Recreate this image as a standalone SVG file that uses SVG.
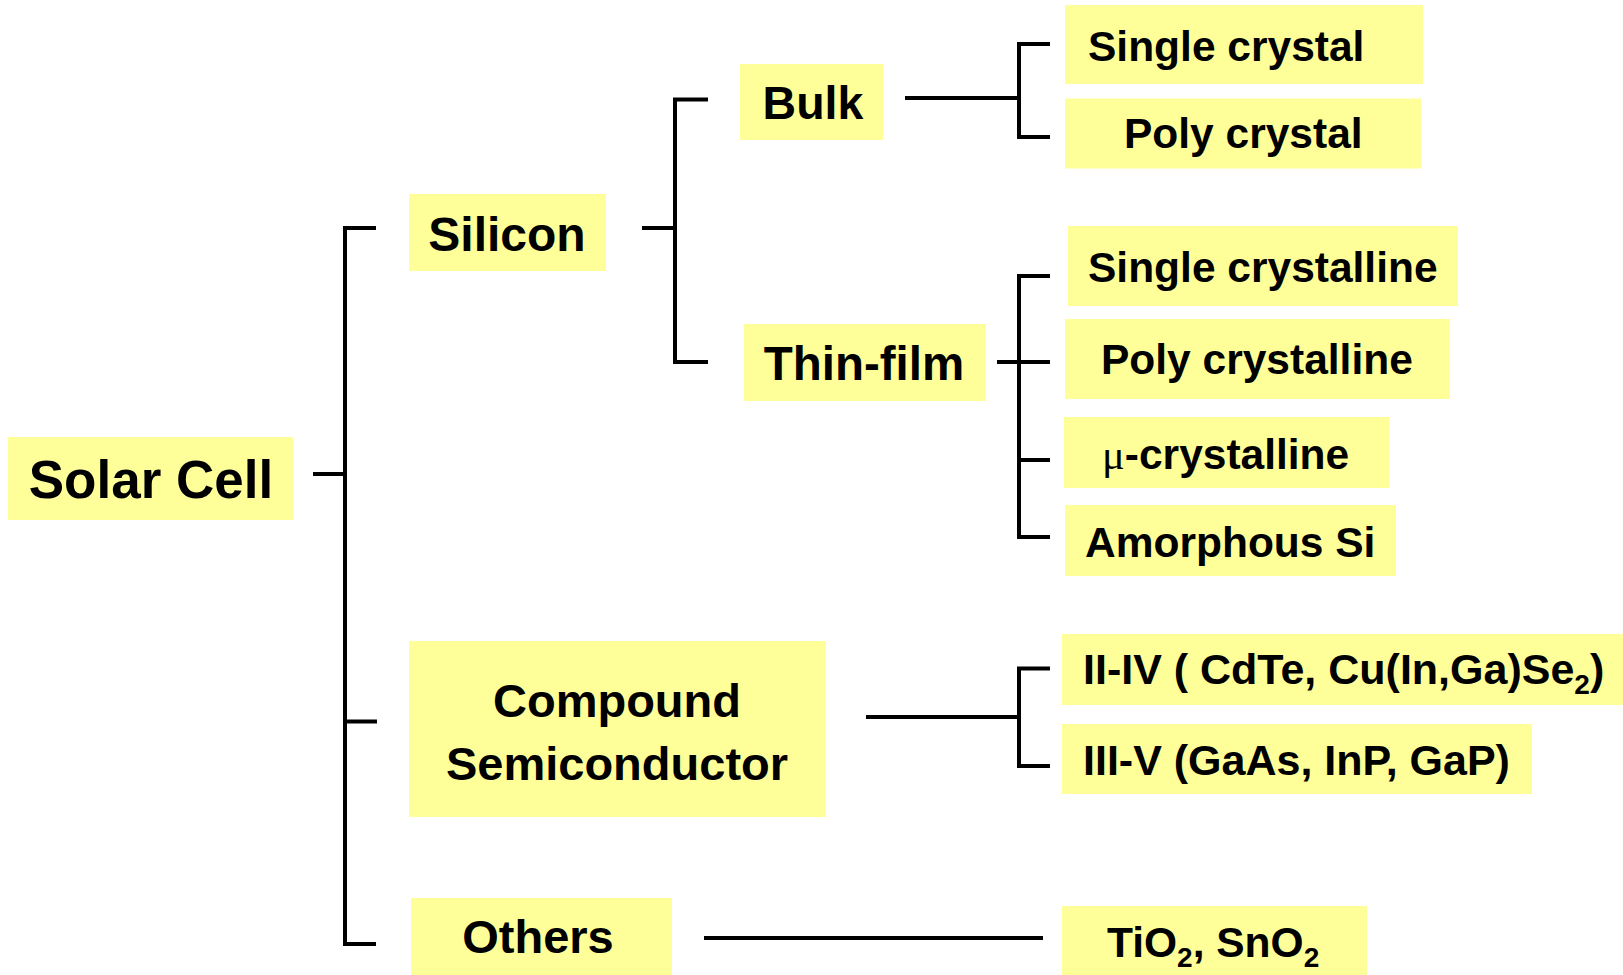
<svg xmlns="http://www.w3.org/2000/svg" width="1623" height="975" viewBox="0 0 1623 975">
<style>
.box{fill:#FFFF99;}
.t{font-family:"Liberation Sans",Arial,sans-serif;font-weight:bold;fill:#000;}
.c{fill:none;stroke:#000;stroke-width:4;}
.sub{font-size:28px;}
.mu{font-family:"Liberation Serif","Times New Roman",serif;font-weight:normal;}
</style>
<rect width="1623" height="975" fill="#fff"/>
<g id="connectors">
<path class="c" d="M313,474 H345"/>
<path class="c" d="M376,228 H345 V944 H376"/>
<path class="c" d="M345,721.5 H377"/>
<path class="c" d="M642,228 H675"/>
<path class="c" d="M708,99.5 H675 V362 H708"/>
<path class="c" d="M905,98 H1019"/>
<path class="c" d="M1050,44 H1019 V137 H1050"/>
<path class="c" d="M997,362 H1050"/>
<path class="c" d="M1050,276 H1019 V537 H1050"/>
<path class="c" d="M1019,460 H1050"/>
<path class="c" d="M866,717 H1019"/>
<path class="c" d="M1050,668.5 H1019 V766 H1050"/>
<path class="c" d="M704,938 H1043"/>
</g>
<g id="solar-cell">
<rect class="box" x="8" y="437" width="285" height="83"/>
<text class="t" x="151" y="498" font-size="53" text-anchor="middle">Solar Cell</text>
</g>
<g id="silicon">
<rect class="box" x="409" y="194" width="197" height="77"/>
<text class="t" x="507" y="250.5" font-size="48" text-anchor="middle">Silicon</text>
</g>
<g id="bulk">
<rect class="box" x="740" y="64" width="143" height="76"/>
<text class="t" x="813" y="119" font-size="46.5" text-anchor="middle">Bulk</text>
</g>
<g id="thin-film">
<rect class="box" x="744" y="324" width="242" height="77"/>
<text class="t" x="864" y="380" font-size="47.5" text-anchor="middle">Thin-film</text>
</g>
<g id="single-crystal">
<rect class="box" x="1065" y="5" width="358" height="79"/>
<text class="t" x="1088" y="61" font-size="42.5">Single crystal</text>
</g>
<g id="poly-crystal">
<rect class="box" x="1065" y="98.5" width="356" height="70"/>
<text class="t" x="1124" y="148" font-size="42.5">Poly crystal</text>
</g>
<g id="single-crystalline">
<rect class="box" x="1068" y="226" width="390" height="80"/>
<text class="t" x="1088" y="281.5" font-size="42.5">Single crystalline</text>
</g>
<g id="poly-crystalline">
<rect class="box" x="1065" y="319" width="385" height="80"/>
<text class="t" x="1101" y="374" font-size="42.5">Poly crystalline</text>
</g>
<g id="mu-crystalline">
<rect class="box" x="1064" y="417" width="325" height="71"/>
<text class="t" x="1102" y="469" font-size="42.5"><tspan class="mu">μ</tspan>-crystalline</text>
</g>
<g id="amorphous-si">
<rect class="box" x="1065" y="505" width="331" height="71"/>
<text class="t" x="1085" y="556.5" font-size="42.5">Amorphous Si</text>
</g>
<g id="compound">
<rect class="box" x="409" y="641" width="417" height="176"/>
<text class="t" x="617" y="717" font-size="47" text-anchor="middle">Compound</text>
<text class="t" x="617" y="780" font-size="47" text-anchor="middle">Semiconductor</text>
</g>
<g id="others">
<rect class="box" x="411" y="898" width="261" height="77"/>
<text class="t" x="538" y="953" font-size="47" text-anchor="middle">Others</text>
</g>
<g id="ii-iv">
<rect class="box" x="1062" y="634" width="561" height="71"/>
<text class="t" x="1083" y="684" font-size="43">II-IV ( CdTe, Cu(In,Ga)Se<tspan class="sub" dy="10">2</tspan><tspan dy="-10">)</tspan></text>
</g>
<g id="iii-v">
<rect class="box" x="1062" y="724" width="470" height="70"/>
<text class="t" x="1083" y="775" font-size="43">III-V (GaAs, InP, GaP)</text>
</g>
<g id="tio2">
<rect class="box" x="1062" y="906" width="305" height="69"/>
<text class="t" x="1107" y="957" font-size="42.5">TiO<tspan class="sub" dy="10">2</tspan><tspan dy="-10">, SnO</tspan><tspan class="sub" dy="10">2</tspan></text>
</g>
</svg>
